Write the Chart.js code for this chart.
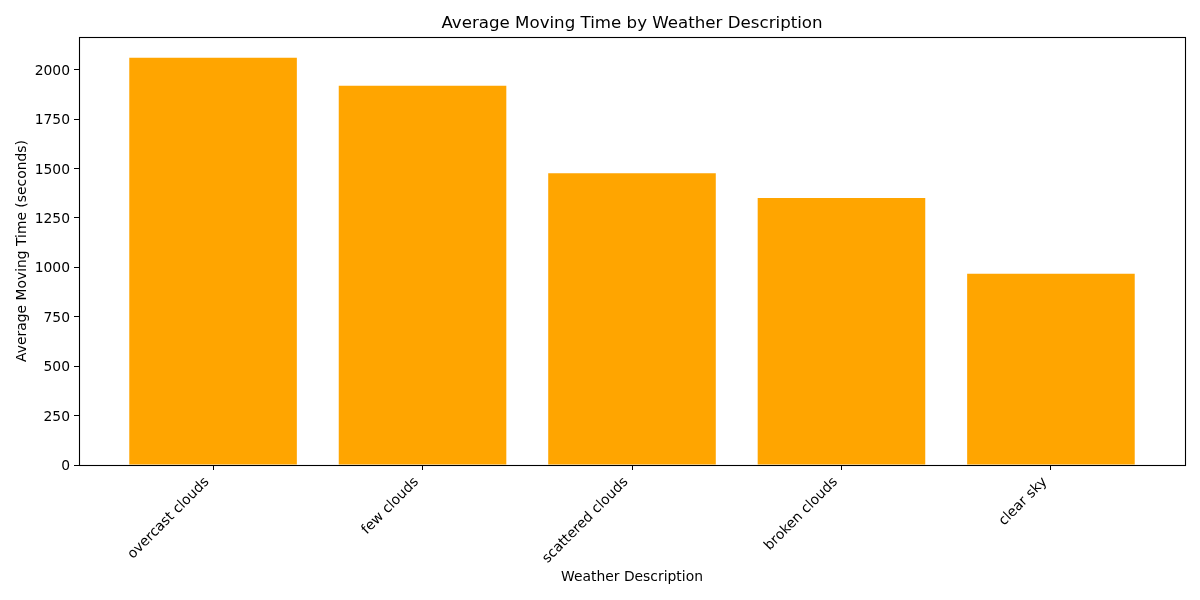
<!DOCTYPE html>
<html>
<head>
<meta charset="utf-8">
<script src="https://cdn.jsdelivr.net/npm/chart.js@4"></script>
<style>
  html, body { margin: 0; padding: 0; background: #fff; }
  canvas { display: block; }
</style>
</head>
<body>
<canvas id="c" width="1200" height="600"></canvas>
<script>
const categories = ['overcast clouds', 'few clouds', 'scattered clouds', 'broken clouds', 'clear sky'];
const avgMovingTime = [2060, 1918, 1476, 1351, 967];
const yTickValues = [0, 250, 500, 750, 1000, 1250, 1500, 1750, 2000];
const chartTitle = 'Average Moving Time by Weather Description';
const xAxisTitle = 'Weather Description';
const yAxisTitle = 'Average Moving Time (seconds)';

const FONT = "'DejaVu Sans', sans-serif";
const points = categories.map((c, i) => ({ x: i, y: avgMovingTime[i] }));

const frame = {
  id: 'frame',
  afterDatasetsDraw(chart) {
    const a = chart.chartArea;
    const ctx = chart.ctx;
    ctx.save();
    ctx.strokeStyle = '#000';
    ctx.lineWidth = 1.1;
    ctx.strokeRect(Math.round(a.left) + 0.5, Math.round(a.top) + 0.5,
                   Math.round(a.right - a.left), Math.round(a.bottom - a.top));
    ctx.restore();
  }
};

new Chart(document.getElementById('c'), {
  type: 'bar',
  data: {
    datasets: [{
      data: points,
      backgroundColor: '#FFA500',
      borderWidth: 0,
      barPercentage: 0.8,
      categoryPercentage: 1.0
    }]
  },
  options: {
    responsive: false,
    animation: false,
    layout: { padding: { left: 0, right: 15, top: 0, bottom: 0 } },
    plugins: {
      legend: { display: false },
      tooltip: { enabled: false },
      title: {
        display: true,
        text: chartTitle,
        fullSize: false,
        color: '#000',
        font: { family: FONT, size: 16.67, weight: 'normal' },
        padding: { top: 14, bottom: 3 }
      }
    },
    scales: {
      x: {
        type: 'linear',
        min: -0.64,
        max: 4.64,
        offset: false,
        grid: { display: true, offset: false, drawOnChartArea: false, drawTicks: true, tickLength: 5, color: '#000', lineWidth: 1 },
        border: { display: false },
        afterBuildTicks(s) { s.ticks = categories.map((_, i) => ({ value: i })); },
        afterFit(s) { s.height = 135; },
        ticks: {
          autoSkip: false,
          maxRotation: 45,
          minRotation: 45,
          padding: 4,
          labelOffset: -6,
          color: '#000',
          font: { family: FONT, size: 13.89 },
          callback: (v) => categories[v]
        },
        title: {
          display: true,
          text: xAxisTitle,
          color: '#000',
          font: { family: FONT, size: 13.89 },
          padding: { top: 0, bottom: 14 }
        }
      },
      y: {
        type: 'linear',
        min: 0,
        max: 2165,
        grid: { display: true, drawOnChartArea: false, drawTicks: true, tickLength: 5, color: '#000', lineWidth: 1 },
        border: { display: false },
        afterBuildTicks(s) { s.ticks = yTickValues.map(v => ({ value: v })); },
        afterFit(s) { s.width = 79; },
        ticks: {
          padding: 4,
          labelOffset: 1.5,
          color: '#000',
          font: { family: FONT, size: 13.89 },
          callback: (v) => String(v)
        },
        title: {
          display: true,
          text: yAxisTitle,
          color: '#000',
          font: { family: FONT, size: 13.89 },
          padding: { top: 14, bottom: 0 }
        }
      }
    }
  },
  plugins: [frame]
});
</script>
</body>
</html>
